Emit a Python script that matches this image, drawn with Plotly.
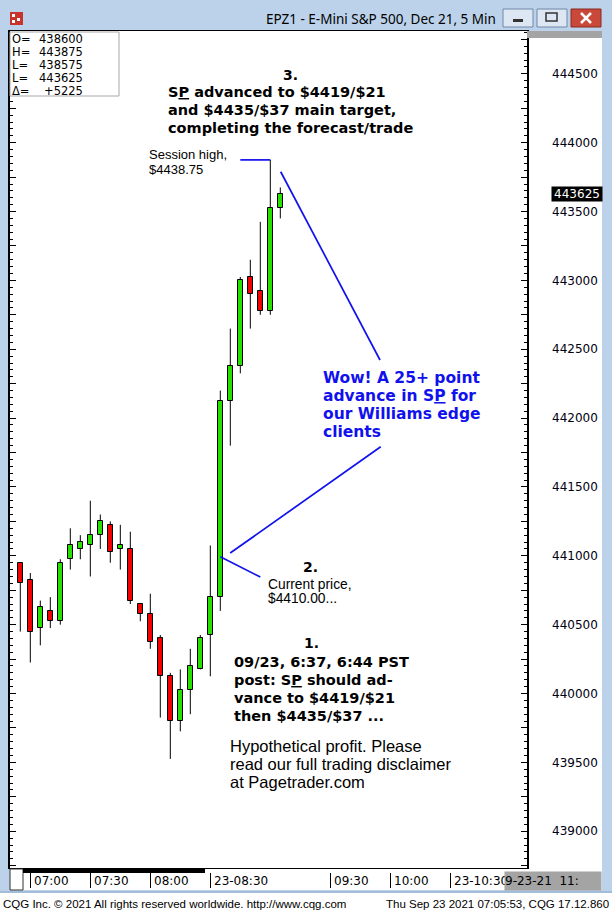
import plotly.graph_objects as go

# ---------------- data ----------------
times = ["06:55", "07:00", "07:05", "07:10", "07:15", "07:20", "07:25", "07:30", "07:35",
         "07:40", "07:45", "07:50", "07:55", "08:00", "08:05", "08:10", "08:15", "08:20",
         "08:25", "08:30", "08:35", "08:40", "08:45", "08:50", "08:55", "09:00", "09:05"]
opens = [4409.50, 4408.25, 4404.75, 4406.00, 4405.25, 4409.75, 4410.50, 4410.75, 4411.50,
         4412.25, 4410.50, 4410.50, 4406.50, 4405.75, 4404.00, 4401.25, 4398.00, 4400.25,
         4401.75, 4404.25, 4407.00, 4421.25, 4423.75, 4430.25, 4429.25, 4427.75, 4435.25]
highs = [4409.50, 4408.75, 4406.75, 4407.00, 4409.75, 4412.00, 4411.50, 4414.00, 4413.00,
         4412.50, 4412.25, 4411.75, 4406.50, 4407.25, 4404.25, 4401.50, 4401.75, 4403.25,
         4404.25, 4410.75, 4422.00, 4426.50, 4430.25, 4431.50, 4434.25, 4438.75, 4436.75]
lows = [4404.50, 4402.25, 4403.50, 4404.75, 4405.00, 4409.00, 4409.75, 4408.50, 4410.50,
        4409.50, 4409.00, 4406.50, 4405.25, 4403.25, 4398.25, 4395.25, 4397.25, 4398.50,
        4401.75, 4401.25, 4406.00, 4418.00, 4423.25, 4426.50, 4427.50, 4427.50, 4434.50]
closes = [4408.00, 4404.50, 4406.25, 4405.25, 4409.50, 4410.75, 4411.00, 4411.50, 4412.50,
          4410.25, 4410.75, 4406.75, 4405.75, 4403.75, 4401.25, 4398.00, 4400.25, 4402.00,
          4404.00, 4407.00, 4421.25, 4423.75, 4430.00, 4429.00, 4427.75, 4435.25, 4436.25]

price_ticks = [4390, 4395, 4400, 4405, 4410, 4415, 4420, 4425, 4430, 4435, 4440, 4445]
time_tick_idx = [1, 7, 13, 19, 31, 37, 43]
time_tick_text = ["07:00", "07:30", "08:00", "23-08:30", "09:30", "10:00", "23-10:30"]

header_labels = ["O=", "H=", "L=", "L=", "\u0394="]
header_values = ["438600", "443875", "438575", "443625", "+5225"]

title_text = "EPZ1 - E-Mini S&P 500, Dec 21, 5 Min"
cursor_time = "9-23-21  11:"
footer_left = "CQG Inc. \u00a9 2021 All rights reserved worldwide. http://www.cqg.com"
footer_right = "Thu Sep 23 2021 07:05:53, CQG 17.12.860"

# ---------------- geometry ----------------
W, H = 612, 913
PL, PR, PT, PB = 10, 527, 31, 868
XR = [-1.03, 50.67]
YR = [4387.33, 4448.11]

def px(x):
    return (x - PL) / (PR - PL)

def py(y):
    return (PB - y) / (PB - PT)

GREEN = "#27e000"
RED = "#f40000"
BLUE = "#1111ee"
FRAME = "#bcd2ea"
AX_FONT = "DejaVu Sans"
REG_FONT = "Liberation Sans"

idx = list(range(len(times)))

fig = go.Figure()

# wicks
wx, wy = [], []
for i in idx:
    wx += [i, i, None]
    wy += [lows[i], highs[i], None]
fig.add_trace(go.Scatter(x=wx, y=wy, mode="lines", line=dict(color="black", width=1),
                         hoverinfo="skip", showlegend=False, yaxis="y"))

# bodies
bases = [min(o, c) for o, c in zip(opens, closes)]
heights = [max(abs(c - o), 0.12) for o, c in zip(opens, closes)]
colors = [GREEN if c >= o else RED for o, c in zip(opens, closes)]
fig.add_trace(go.Bar(x=idx, y=heights, base=bases, width=0.5,
                     marker=dict(color=colors, line=dict(color="black", width=1)),
                     hoverinfo="skip", showlegend=False, yaxis="y2"))

shapes = []
annots = []

def rect(x0, y0, x1, y1, fill, line=None, lw=1, layer="below"):
    shapes.append(dict(type="rect", xref="paper", yref="paper",
                       x0=px(x0), x1=px(x1), y0=py(y0), y1=py(y1),
                       fillcolor=fill, line=dict(color=line or fill, width=lw if line else 0),
                       layer=layer))

def pline(x0, y0, x1, y1, color, w=1, layer="above"):
    shapes.append(dict(type="line", xref="paper", yref="paper",
                       x0=px(x0), x1=px(x1), y0=py(y0), y1=py(y1),
                       line=dict(color=color, width=w), layer=layer))

def txt(x, y, s, size, family=REG_FONT, color="black", xanchor="left", bold=False):
    annots.append(dict(xref="paper", yref="paper", x=px(x), y=py(y),
                       text=("<b>%s</b>" % s) if bold else s,
                       showarrow=False, xanchor=xanchor, yanchor="middle",
                       font=dict(family=family, size=size, color=color), borderpad=0))

# window chrome
rect(0, 0, 612, 31, FRAME)
rect(527, 31, 602, 868, "white")
rect(527, 31, 602, 38, "#a4a4a4", layer="above")
rect(10, 868, 602, 890, "white")
rect(0, 893, 612, 913, "white")
rect(10, 869, 23, 890, "white", line="#333333", lw=1, layer="above")
rect(23, 869, 205, 873, "black", layer="above")
pline(0, 892, 612, 892, "#8aa6c6", 1)

# title bar icon
rect(10, 12, 23, 25, "#c8342c", layer="above")
rect(12, 14, 15, 17, "white", layer="above")
rect(17, 18, 20, 21, "white", layer="above")
rect(12, 20, 15, 23, "white", layer="above")
# window buttons
rect(503, 9, 533, 27, "#dde7f3", line="#7088a8", lw=1, layer="above")
rect(513, 19, 523, 22, "#333333", layer="above")
rect(537, 9, 567, 27, "#dde7f3", line="#7088a8", lw=1, layer="above")
rect(546, 13, 557, 21, "rgba(0,0,0,0)", line="#333333", lw=1.5, layer="above")
rect(571, 9, 601, 27, "#c9483a", line="#8a2a20", lw=1, layer="above")
pline(581, 13, 591, 23, "white", 2.5)
pline(581, 23, 591, 13, "white", 2.5)
txt(265, 19, title_text, 13.5, family="Noto Sans")

# info box
rect(10, 32, 119, 96, "white", line="#a8a8a8", lw=1, layer="above")
for k, (lab, val) in enumerate(zip(header_labels, header_values)):
    yy = 39.5 + 12.8 * k
    txt(11, yy, lab, 11.5, family=AX_FONT)
    txt(84, yy, val, 11.5, family=AX_FONT, xanchor="right")

# x-axis strip labels and separators
for ti, tt in zip(time_tick_idx, time_tick_text):
    shapes.append(dict(type="line", xref="x", yref="paper", x0=ti + 0.02, x1=ti + 0.02,
                       y0=py(888), y1=py(873), line=dict(color="black", width=1), layer="above"))
    annots.append(dict(xref="x", yref="paper", x=ti + 0.25, y=py(880.5), text=tt,
                       showarrow=False, xanchor="left", yanchor="middle", borderpad=0,
                       font=dict(family=AX_FONT, size=12, color="black")))
# cursor time box (drawn over the last label)
annots.append(dict(xref="paper", yref="paper", x=px(504), y=py(880.5), text=cursor_time,
                   showarrow=False, xanchor="left", yanchor="middle", bgcolor="#a4a4a4",
                   width=96, height=18, align="left", borderpad=0,
                   font=dict(family=AX_FONT, size=12, color="black")))

# last price box
last_label = "%d" % round(closes[-1] * 100)
annots.append(dict(xref="paper", yref="y", x=px(551), y=closes[-1], text=last_label,
                   showarrow=False, xanchor="left", yanchor="middle", bgcolor="black",
                   width=50, height=14, align="center", borderpad=0,
                   font=dict(family=AX_FONT, size=12, color="white")))

# annotation lines (blue)
sh = max(highs)
blue_lines = [
    (22.0, sh, 25.0, sh),
    (26.04, 4437.89, 35.97, 4424.22),
    (20.99, 4410.20, 36.04, 4417.92),
    (20.0, 4409.93, 24.0, 4408.46),
]
for x0, y0, x1, y1 in blue_lines:
    shapes.append(dict(type="line", xref="x", yref="y", x0=x0, y0=y0, x1=x1, y1=y1,
                       line=dict(color=BLUE, width=1.7), layer="above"))

U = "S<u>P</u>"
BF = "DejaVu Sans"
# text block 3
txt(290.5, 75, "3.", 14, family=BF, bold=True, xanchor="center")
for k, s in enumerate([U + " advanced to $4419/$21", "and $4435/$37 main target,",
                       "completing the forecast/trade"]):
    txt(167, 91.7 + 18 * k, s, 14.5, family=BF, bold=True)
# session high
txt(148, 154.3, "Session high,", 13)
txt(148, 169, "$4438.75", 13)
# blue text
for k, s in enumerate(["Wow! A 25+ point", "advance in " + U + " for", "our Williams edge", "clients"]):
    txt(321.5, 378.3 + 17.8 * k, s, 15.5, family=BF, bold=True, color=BLUE)
# text block 2
txt(310, 567.5, "2.", 14, family=BF, bold=True, xanchor="center")
txt(267, 584.5, "Current price,", 13.8)
txt(267, 598.5, "$4410.00...", 13.8)
# text block 1
txt(311, 642.7, "1.", 14, family=BF, bold=True, xanchor="center")
for k, s in enumerate(["09/23, 6:37, 6:44 PST", "post: " + U + " should ad-",
                       "vance to $4419/$21", "then $4435/$37 ..."]):
    txt(233, 661.7 + 18.1 * k, s, 14.5, family=BF, bold=True)
for k, s in enumerate(["Hypothetical profit. Please", "read our full trading disclaimer",
                       "at Pagetrader.com"]):
    txt(229, 746 + 18.1 * k, s, 16.5)
# footer
txt(2, 903.5, footer_left, 11.5)
txt(610, 903.5, footer_right, 11.5, xanchor="right")

fig.update_layout(
    width=W, height=H,
    margin=dict(l=PL, r=W - PR, t=PT, b=H - PB, pad=0),
    paper_bgcolor=FRAME, plot_bgcolor="white",
    showlegend=False, hovermode=False, bargap=0,
    xaxis=dict(range=XR, showgrid=False, zeroline=False, showticklabels=False, ticks="",
               showline=True, linecolor="black", linewidth=1, mirror=True, fixedrange=True),
    yaxis=dict(range=YR, side="right", showgrid=False, zeroline=False,
               tickvals=price_ticks, ticktext=["%d" % (v * 100) for v in price_ticks],
               ticks="", ticklabelstandoff=24, showline=False,
               tickfont=dict(family=AX_FONT, size=12, color="#000010")),
    yaxis2=dict(range=YR, overlaying="y", side="left", showgrid=False, zeroline=False,
                showticklabels=False, ticks="inside", tick0=4390, dtick=2.5, ticklen=6,
                tickcolor="black", tickwidth=1,
                minor=dict(ticks="inside", dtick=0.5, ticklen=3, tickcolor="black", tickwidth=1),
                showline=True, linecolor="black", linewidth=2, mirror="allticks"),
    shapes=shapes, annotations=annots,
)

fig.write_html("out.html", include_plotlyjs=True, config={"displayModeBar": False},
               post_script="document.body.style.margin='0px';document.body.style.overflow='hidden';")
